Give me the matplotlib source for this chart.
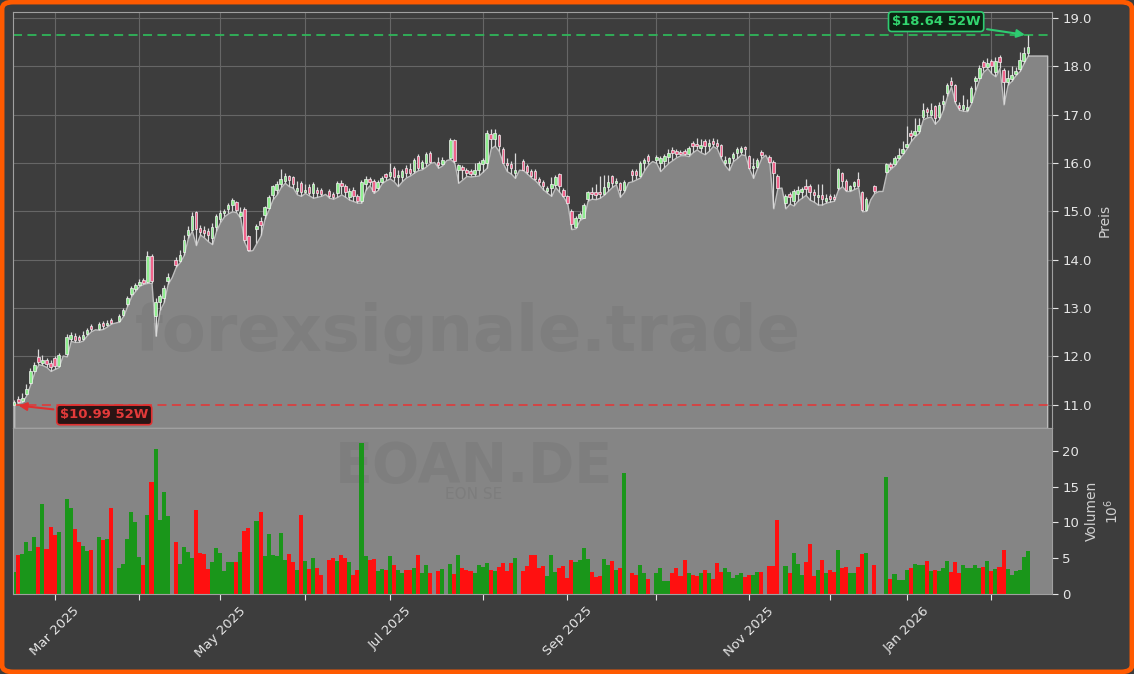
import matplotlib
matplotlib.use("Agg")
import matplotlib.pyplot as plt
import numpy as np
import pandas as pd
from matplotlib.patches import FancyBboxPatch

# Xetra trading days 17 Feb 2025 - 13 Feb 2026 (exchange holidays removed)
holidays = ["2025-04-18", "2025-04-21", "2025-05-01", "2025-12-24",
            "2025-12-25", "2025-12-26", "2025-12-31", "2026-01-01"]
dates = pd.bdate_range("2025-02-17", "2026-02-13")
dates = dates[~dates.isin(pd.to_datetime(holidays))]

lows = [10.99, 11.04, 11.06, 11.20, 11.43, 11.68, 11.84, 11.82, 11.78, 11.70,
        11.74, 11.78, 12.02, 12.00, 12.32, 12.30, 12.30, 12.33, 12.44, 12.52,
        12.56, 12.55, 12.57, 12.62, 12.68, 12.70, 12.72, 12.84, 13.05, 13.25,
        13.36, 13.46, 13.50, 13.52, 13.52, 12.43, 12.95, 13.12, 13.50, 13.64,
        13.85, 13.95, 14.10, 14.45, 14.60, 14.30, 14.52, 14.46, 14.38, 14.32,
        14.60, 14.78, 14.90, 14.96, 15.00, 14.98, 14.86, 14.36, 14.18, 14.20,
        14.35, 14.50, 14.85, 15.04, 15.25, 15.35, 15.50, 15.59, 15.52, 15.49,
        15.35, 15.32, 15.38, 15.33, 15.28, 15.30, 15.32, 15.36, 15.28, 15.26,
        15.30, 15.35, 15.30, 15.24, 15.21, 15.18, 15.18, 15.45, 15.54, 15.38,
        15.44, 15.58, 15.64, 15.68, 15.62, 15.52, 15.62, 15.70, 15.74, 15.80,
        15.85, 15.87, 15.93, 16.00, 16.02, 15.90, 15.95, 16.06, 16.08, 16.00,
        15.59, 15.66, 15.73, 15.72, 15.73, 15.74, 15.82, 15.90, 16.30, 16.36,
        16.25, 16.00, 15.83, 15.78, 15.69, 15.86, 15.85, 15.78, 15.70, 15.64,
        15.55, 15.45, 15.38, 15.32, 15.50, 15.40, 15.30, 15.15, 14.63, 14.65,
        14.82, 14.87, 15.22, 15.26, 15.25, 15.28, 15.34, 15.42, 15.50, 15.56,
        15.30, 15.40, 15.60, 15.62, 15.66, 15.70, 15.85, 15.97, 16.04, 16.00,
        15.83, 15.92, 16.00, 16.06, 16.12, 16.16, 16.16, 16.14, 16.22, 16.28,
        16.22, 16.18, 16.25, 16.35, 16.30, 16.10, 15.95, 15.85, 16.04, 16.10,
        16.18, 16.16, 15.88, 15.69, 15.90, 16.10, 16.17, 16.00, 15.06, 15.48,
        15.49, 15.06, 15.16, 15.12, 15.22, 15.28, 15.34, 15.24, 15.20, 15.14,
        15.14, 15.18, 15.20, 15.22, 15.45, 15.52, 15.42, 15.42, 15.46, 15.50,
        15.00, 15.01, 15.25, 15.38, 15.42, 15.42, 15.80, 15.88, 15.95, 16.08,
        16.18, 16.30, 16.45, 16.55, 16.62, 16.90, 16.94, 16.96, 16.81, 16.90,
        17.10, 17.38, 17.58, 17.24, 17.10, 17.08, 17.07, 17.24, 17.50, 17.74,
        17.89, 17.96, 17.85, 17.79, 17.96, 17.21, 17.62, 17.70, 17.82, 17.90,
        18.07, 18.22]

opens = [11.00, 11.12, 11.08, 11.22, 11.45, 11.70, 11.99, 11.86, 11.92, 11.86,
         11.96, 11.80, 12.02, 12.05, 12.36, 12.43, 12.40, 12.35, 12.46, 12.62,
         12.56, 12.57, 12.70, 12.64, 12.76, 12.70, 12.74, 12.86, 13.08, 13.28,
         13.40, 13.48, 13.58, 13.54, 14.08, 12.84, 13.12, 13.20, 13.55, 13.64,
         14.00, 13.98, 14.15, 14.50, 14.62, 14.98, 14.66, 14.62, 14.60, 14.45,
         14.67, 14.85, 14.96, 15.04, 15.12, 15.19, 14.90, 15.04, 14.49, 14.20,
         14.63, 14.80, 14.92, 15.06, 15.33, 15.45, 15.56, 15.62, 15.72, 15.70,
         15.42, 15.58, 15.40, 15.50, 15.38, 15.45, 15.44, 15.36, 15.42, 15.36,
         15.38, 15.58, 15.52, 15.30, 15.44, 15.32, 15.22, 15.56, 15.66, 15.63,
         15.48, 15.60, 15.77, 15.72, 15.90, 15.70, 15.70, 15.90, 15.88, 15.84,
         16.14, 15.90, 16.00, 16.21, 16.02, 16.02, 15.98, 16.06, 16.10, 16.48,
         15.86, 15.92, 15.86, 15.84, 15.78, 15.86, 15.98, 16.00, 16.60, 16.50,
         16.58, 16.28, 16.00, 15.98, 15.80, 15.86, 16.04, 15.94, 15.84, 15.84,
         15.66, 15.60, 15.42, 15.48, 15.54, 15.77, 15.45, 15.32, 15.01, 14.67,
         14.86, 14.87, 15.25, 15.40, 15.40, 15.40, 15.36, 15.50, 15.72, 15.58,
         15.58, 15.44, 15.60, 15.84, 15.84, 15.72, 16.00, 16.14, 16.04, 16.06,
         16.00, 16.05, 16.12, 16.26, 16.24, 16.22, 16.24, 16.18, 16.42, 16.40,
         16.30, 16.46, 16.36, 16.46, 16.42, 16.38, 16.00, 16.00, 16.10, 16.21,
         16.22, 16.32, 16.14, 15.90, 15.92, 16.23, 16.17, 16.13, 16.02, 15.73,
         15.49, 15.18, 15.36, 15.22, 15.36, 15.40, 15.52, 15.52, 15.40, 15.30,
         15.34, 15.22, 15.32, 15.30, 15.49, 15.79, 15.63, 15.44, 15.52, 15.66,
         15.39, 15.02, 15.25, 15.52, 15.42, 15.42, 15.82, 15.98, 15.97, 16.10,
         16.20, 16.32, 16.62, 16.58, 16.66, 16.94, 17.12, 17.00, 17.17, 16.95,
         17.22, 17.44, 17.69, 17.61, 17.20, 17.12, 17.10, 17.26, 17.70, 17.76,
         18.09, 17.99, 18.10, 17.88, 18.18, 17.92, 17.68, 17.74, 17.84, 17.94,
         18.10, 18.28]

closes = [11.06, 11.06, 11.14, 11.32, 11.70, 11.82, 11.88, 11.92, 11.84, 11.78,
          11.80, 12.02, 12.02, 12.40, 12.44, 12.34, 12.33, 12.44, 12.54, 12.56,
          12.56, 12.66, 12.62, 12.70, 12.70, 12.70, 12.84, 12.96, 13.20, 13.42,
          13.48, 13.54, 13.52, 14.08, 13.55, 13.12, 13.25, 13.42, 13.64, 13.64,
          13.90, 14.10, 14.40, 14.62, 14.90, 14.63, 14.58, 14.55, 14.50, 14.68,
          14.90, 14.96, 15.00, 15.14, 15.23, 15.02, 14.98, 14.40, 14.20, 14.20,
          14.70, 14.72, 15.08, 15.30, 15.52, 15.56, 15.66, 15.72, 15.64, 15.56,
          15.48, 15.40, 15.45, 15.38, 15.56, 15.38, 15.36, 15.36, 15.32, 15.30,
          15.59, 15.52, 15.40, 15.42, 15.32, 15.22, 15.60, 15.66, 15.60, 15.42,
          15.60, 15.68, 15.70, 15.82, 15.70, 15.76, 15.84, 15.80, 15.80, 16.07,
          15.90, 16.02, 16.18, 16.02, 16.02, 15.96, 16.06, 16.06, 16.48, 16.04,
          15.95, 15.86, 15.80, 15.78, 15.85, 16.00, 16.06, 16.62, 16.50, 16.62,
          16.35, 16.00, 15.96, 15.90, 15.86, 15.86, 15.86, 15.82, 15.72, 15.66,
          15.60, 15.52, 15.48, 15.56, 15.70, 15.52, 15.32, 15.18, 14.74, 14.87,
          14.94, 15.14, 15.39, 15.36, 15.34, 15.36, 15.50, 15.60, 15.58, 15.62,
          15.44, 15.60, 15.60, 15.76, 15.74, 16.00, 16.06, 16.04, 16.04, 16.12,
          16.10, 16.14, 16.20, 16.20, 16.18, 16.18, 16.18, 16.30, 16.36, 16.36,
          16.38, 16.34, 16.42, 16.40, 16.34, 16.14, 16.06, 16.10, 16.18, 16.28,
          16.30, 16.28, 15.90, 15.94, 16.07, 16.17, 16.17, 16.02, 15.80, 15.49,
          15.49, 15.32, 15.30, 15.42, 15.44, 15.46, 15.46, 15.40, 15.34, 15.34,
          15.26, 15.28, 15.26, 15.26, 15.87, 15.63, 15.45, 15.52, 15.60, 15.52,
          15.02, 15.25, 15.25, 15.42, 15.42, 15.42, 15.97, 15.92, 16.10, 16.16,
          16.28, 16.40, 16.55, 16.66, 16.78, 17.10, 17.06, 17.10, 16.93, 17.20,
          17.28, 17.61, 17.62, 17.28, 17.14, 17.20, 17.15, 17.55, 17.76, 17.97,
          17.99, 18.06, 18.00, 18.11, 18.08, 17.68, 17.76, 17.82, 17.90, 18.12,
          18.28, 18.40]

highs = [11.10, 11.18, 11.24, 11.42, 11.76, 11.88, 12.15, 12.02, 11.96, 11.92,
         12.01, 12.08, 12.02, 12.46, 12.50, 12.48, 12.44, 12.52, 12.58, 12.66,
         12.56, 12.72, 12.74, 12.76, 12.80, 12.70, 12.88, 13.00, 13.24, 13.46,
         13.52, 13.60, 13.62, 14.18, 14.12, 13.20, 13.30, 13.48, 13.72, 13.64,
         14.06, 14.20, 14.52, 14.70, 14.98, 15.00, 14.72, 14.70, 14.66, 14.76,
         14.94, 15.02, 15.05, 15.18, 15.28, 15.22, 15.08, 15.08, 14.52, 14.20,
         14.74, 14.88, 15.10, 15.33, 15.55, 15.62, 15.87, 15.80, 15.76, 15.72,
         15.62, 15.62, 15.56, 15.56, 15.60, 15.50, 15.48, 15.36, 15.46, 15.40,
         15.62, 15.64, 15.56, 15.48, 15.50, 15.36, 15.64, 15.72, 15.70, 15.66,
         15.64, 15.72, 15.80, 16.00, 15.94, 15.86, 15.88, 15.95, 16.00, 16.10,
         16.18, 16.06, 16.22, 16.24, 16.02, 16.12, 16.12, 16.06, 16.52, 16.50,
         15.98, 15.95, 15.90, 15.88, 16.00, 16.04, 16.10, 16.68, 16.70, 16.70,
         16.60, 16.32, 16.10, 16.04, 16.20, 15.86, 16.08, 15.98, 15.88, 15.88,
         15.70, 15.64, 15.52, 15.70, 15.74, 15.80, 15.48, 15.34, 15.04, 14.90,
         14.98, 15.18, 15.42, 15.50, 15.56, 15.72, 15.74, 15.76, 15.76, 15.68,
         15.60, 15.64, 15.60, 15.88, 15.88, 16.04, 16.10, 16.18, 16.04, 16.16,
         16.14, 16.18, 16.28, 16.32, 16.28, 16.26, 16.28, 16.34, 16.46, 16.52,
         16.50, 16.50, 16.50, 16.52, 16.50, 16.40, 16.14, 16.12, 16.22, 16.32,
         16.34, 16.36, 16.16, 16.10, 16.10, 16.26, 16.17, 16.16, 16.07, 15.78,
         15.49, 15.36, 15.40, 15.46, 15.52, 15.50, 15.66, 15.56, 15.46, 15.56,
         15.56, 15.36, 15.36, 15.36, 15.90, 15.82, 15.66, 15.54, 15.62, 15.82,
         15.42, 15.30, 15.25, 15.55, 15.42, 15.42, 16.00, 16.02, 16.14, 16.30,
         16.46, 16.76, 16.68, 16.92, 16.92, 17.24, 17.16, 17.24, 17.20, 17.26,
         17.40, 17.66, 17.78, 17.64, 17.25, 17.40, 17.32, 17.58, 17.80, 18.02,
         18.12, 18.16, 18.14, 18.18, 18.24, 17.96, 17.92, 18.00, 17.98, 18.30,
         18.40, 18.64]

# volume in millions (0 = no volume reported that day)
volumes = [3.1, 5.45, 5.6, 7.2, 6.0, 8.0, 6.6, 12.6, 6.3, 9.4,
           8.2, 8.7, 0, 13.3, 12.0, 9.1, 7.3, 6.7, 6.0, 6.1,
           0, 8.0, 7.6, 7.7, 12.0, 0, 3.7, 4.2, 7.7, 11.5,
           10.1, 5.2, 4.1, 11.0, 15.6, 20.3, 10.3, 14.3, 10.9, 0,
           7.2, 4.2, 6.5, 5.9, 5.1, 11.8, 5.7, 5.6, 3.5, 4.5,
           6.4, 5.7, 3.2, 4.5, 4.5, 4.5, 5.9, 8.8, 9.2, 0,
           10.2, 11.5, 5.3, 8.4, 5.4, 5.3, 8.5, 4.8, 5.6, 4.5,
           3.4, 11.1, 4.6, 3.5, 5.0, 3.6, 2.7, 0, 4.8, 5.0,
           4.6, 5.4, 5.0, 4.5, 2.7, 3.4, 21.1, 5.3, 4.7, 4.9,
           3.2, 3.5, 3.4, 5.3, 4.0, 3.4, 2.9, 3.4, 3.4, 3.6,
           5.5, 2.9, 4.1, 2.9, 0, 3.2, 3.5, 0, 4.2, 2.8,
           5.4, 3.6, 3.4, 3.2, 2.9, 4.1, 3.8, 4.3, 3.4, 3.2,
           3.8, 4.3, 3.2, 4.4, 5.0, 0, 3.2, 3.9, 5.4, 5.45,
           3.6, 3.9, 2.5, 5.45, 3.1, 3.6, 3.9, 2.2, 4.75, 4.5,
           4.8, 6.4, 4.9, 3.1, 2.4, 2.5, 4.9, 4.1, 4.6, 3.4,
           3.6, 16.9, 0, 3.0, 2.7, 4.1, 2.9, 2.1, 0, 3.0,
           3.6, 1.8, 1.8, 2.9, 3.6, 2.5, 4.8, 3.0, 2.7, 2.5,
           3.0, 3.4, 2.9, 2.1, 4.3, 3.1, 3.6, 3.1, 2.3, 2.7,
           2.9, 2.4, 2.7, 2.7, 3.1, 3.1, 0, 3.9, 3.9, 10.35,
           0, 3.9, 3.0, 5.7, 4.2, 2.7, 4.5, 7.0, 2.5, 3.4,
           4.8, 3.0, 3.4, 3.1, 6.1, 3.6, 3.8, 2.9, 2.9, 3.8,
           5.6, 5.8, 0, 4.1, 0, 0, 16.3, 2.1, 2.8, 2.0,
           2.0, 3.3, 3.7, 4.2, 4.1, 4.0, 4.6, 3.2, 3.3, 3.2,
           3.7, 4.6, 3.1, 4.5, 2.9, 4.0, 3.6, 3.6, 4.1, 3.6,
           3.8, 4.6, 3.2, 3.5, 3.8, 6.2, 3.5, 2.7, 3.2, 3.3,
           5.2, 6.0]

high_52w = 18.64
low_52w = 10.99

BG = "#3d3d3d"
FILL = "#858585"
TXT = "#e6e6e6"

o = np.array(opens)
h = np.array(highs)
lo = np.array(lows)
c = np.array(closes)
v = np.array(volumes)
n = len(c)
x = np.arange(n)
up = c >= o
traded = v > 0

fig = plt.figure(figsize=(11.34, 6.74), dpi=100, facecolor=BG)
ax = fig.add_axes([13 / 1134, 1 - 428 / 674, 1039 / 1134, 416 / 674], facecolor=BG)
axv = fig.add_axes([13 / 1134, 1 - 594 / 674, 1039 / 1134, 166 / 674], facecolor=FILL, sharex=ax)

# price panel: area under the lows, candles on top
ymin, ymax = 10.52, 19.12
fx = np.append(x, n + 3.8)
fl = np.append(lo, lo[-1])
ax.fill_between(fx, fl, ymin, facecolor=FILL, edgecolor="#bdbdbd", linewidth=1.0, zorder=1)

m = traded
ax.vlines(x[m], lo[m], h[m], color="#d9d9d9", linewidth=0.9, zorder=3)
body_col = np.where(up, "#90ee90", "#f0648c")
ax.bar(x[m], np.abs(c - o)[m], bottom=np.minimum(o, c)[m], width=0.62,
       color=body_col[m], edgecolor="#f2f2f2", linewidth=0.5, zorder=4)

ax.axhline(high_52w, color="#2fb559", linestyle=(0, (5, 3)), linewidth=1.3, zorder=2)
ax.axhline(low_52w, color="#d94040", linestyle=(0, (5, 3)), linewidth=1.3, zorder=2)

ax.annotate(f"${high_52w:.2f} 52W", xy=(n - 1, high_52w), xytext=(228.3, 18.92),
            ha="center", va="center", color="#32d66e", fontsize=9.5, fontweight="bold",
            bbox=dict(boxstyle="round,pad=0.25", fc="#0c2412", ec="#2ecc71", lw=1.2),
            arrowprops=dict(arrowstyle="-|>", color="#2ecc71", lw=1.5, mutation_scale=12),
            zorder=6)
ax.annotate(f"${low_52w:.2f} 52W", xy=(0.4, low_52w), xytext=(22.3, 10.79),
            ha="center", va="center", color="#e23a3a", fontsize=9.5, fontweight="bold",
            bbox=dict(boxstyle="round,pad=0.25", fc="#2a1414", ec="#e03030", lw=1.2),
            arrowprops=dict(arrowstyle="-|>", color="#e03030", lw=1.5, mutation_scale=12),
            zorder=6)

ax.text(0.4374, 0.1875, "forexsignale.trade", transform=ax.transAxes, fontsize=46,
        fontweight="bold", color="black", alpha=0.05, ha="center", va="baseline", zorder=1.5)

ax.set_ylim(ymin, ymax)
ax.set_xlim(-0.3, n + 5)
ax.yaxis.tick_right()
ax.yaxis.set_label_position("right")
ax.set_yticks(np.arange(11, 19.5, 1.0))
ax.set_yticklabels([f"{t:.1f}" for t in np.arange(11, 19.5, 1.0)])
ax.set_ylabel("Preis", color="#d0d0d0", fontsize=10)
ax.tick_params(axis="y", colors=TXT, labelsize=9.5, length=4)
ax.tick_params(axis="x", length=0, labelbottom=False)
ax.set_axisbelow(True)
ax.grid(True, color="#666666", linewidth=0.8)

# volume panel
vol_col = np.where(up, "#1a961a", "#ff1010")
axv.bar(x, v, width=1.0, color=vol_col, linewidth=0, zorder=2)
axv.text(0.4437, 0.677, "EOAN.DE", transform=axv.transAxes, fontsize=40, fontweight="bold",
         color="black", alpha=0.05, ha="center", va="baseline", zorder=1)
axv.text(0.4437, 0.57, "EON SE", transform=axv.transAxes, fontsize=11,
         color="black", alpha=0.06, ha="center", va="baseline", zorder=1)
axv.set_ylim(0, 23.2)
axv.yaxis.tick_right()
axv.yaxis.set_label_position("right")
axv.set_yticks([0, 5, 10, 15, 20])
axv.set_ylabel("Volumen\n$10^{6}$", color="#d0d0d0", fontsize=10)
axv.tick_params(axis="y", colors=TXT, labelsize=9.5, length=4)

month_starts = [i for i in range(1, n) if dates[i].month != dates[i - 1].month]
month_labels = [dates[i].strftime("%b %Y") if dates[i].month % 2 == 1 else "" for i in month_starts]
axv.set_xticks(month_starts)
axv.set_xticklabels(month_labels, rotation=45, ha="center")
axv.tick_params(axis="x", colors=TXT, labelsize=9.5, length=4)
ax.set_xticks(month_starts)

for a in (ax, axv):
    for s in a.spines.values():
        s.set_color("#a0a0a0")

border = FancyBboxPatch((0.0018, 0.003), 0.9964, 0.994,
                        boxstyle="round,pad=0,rounding_size=0.01",
                        transform=fig.transFigure, fill=False,
                        edgecolor="#ff5a00", linewidth=3.5)
fig.patches.append(border)

fig.savefig("out.png", dpi=100, facecolor=BG)
